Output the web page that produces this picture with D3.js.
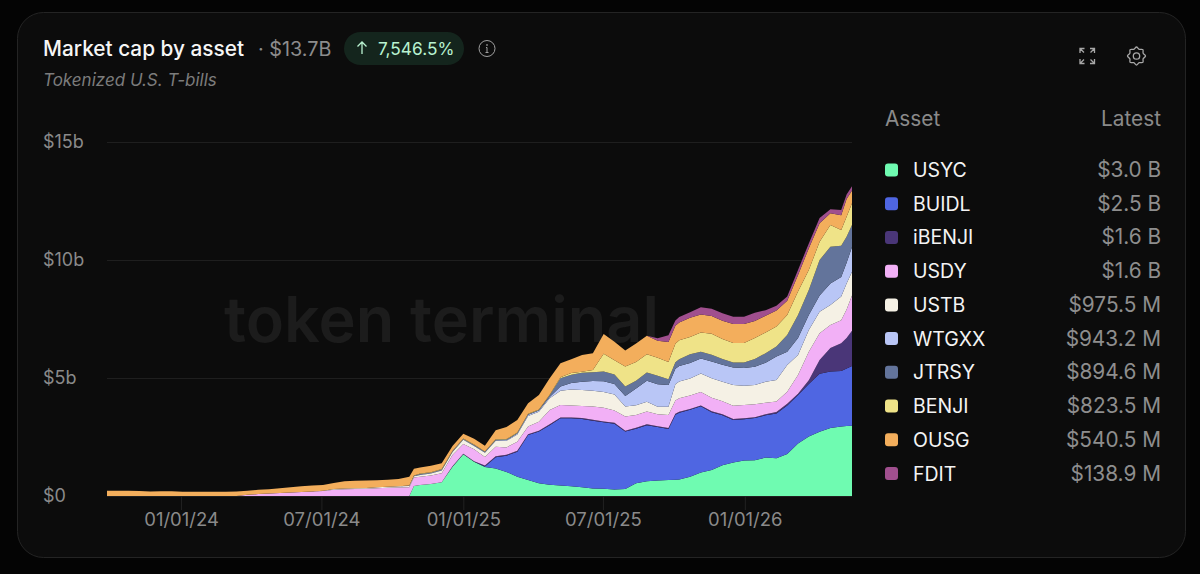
<!DOCTYPE html>
<html>
  <head>
    <title>Market cap by asset</title>
    <script src="https://cdnjs.cloudflare.com/ajax/libs/d3/7.8.5/d3.min.js"></script>
    <style>
      body {
        margin: 0;
        background: #040404;
        font-family: Inter, "Noto Sans", sans-serif;
        overflow: hidden;
      }
      svg text {
        font-family: Inter, "Noto Sans", sans-serif;
      }
      .domain {
        display: none;
      }
      .grid line {
        stroke: #1f1f1f;
      }
      .axis text {
        fill: #8a8a8a;
        font-size: 18px;
      }
      .xaxis text {
        font-size: 18.5px;
      }
      .xaxis line {
        stroke: #222;
      }
    </style>
  </head>
  <body>
    <svg id="chart" width="1200" height="574"></svg>
    <script>
      // two-weekly samples plus three extra ones at the sharp steps, values in $b
      const USYC = [
        0, 0, 0, 0, 0, 0, 0, 0, 0, 0,
        0, 0, 0, 0, 0, 0, 0, 0, 0, 0,
        0, 0, 0, 0, 0, 0, 0, 0, 0, 0.42, 0.47,
        0.51, 0.58, 1.24, 1.77, 1.45, 1.23, 1.16, 1.02, 0.82, 0.68,
        0.54, 0.48, 0.44, 0.41, 0.37, 0.32, 0.31, 0.28, 0.3, 0.54,
        0.62, 0.66, 0.68, 0.69, 0.7, 0.82, 1.0, 1.1, 1.3, 1.42, 1.5,
        1.51, 1.63, 1.6, 1.78, 2.22, 2.52, 2.72, 2.88, 2.95, 2.97, 2.98,
      ];
      const BUIDL = [
        0, 0, 0, 0, 0, 0, 0, 0, 0, 0,
        0, 0, 0, 0, 0, 0, 0, 0, 0, 0,
        0, 0, 0, 0, 0, 0, 0, 0, 0, 0, 0,
        0, 0, 0, 0, 0, 0.02, 0.48, 0.69, 1.06, 1.9,
        2.19, 2.52, 2.85, 2.88, 2.89, 2.87, 2.81, 2.78, 2.43, 2.31,
        2.38, 2.26, 2.16, 2.75, 2.83, 2.83, 2.8, 2.45, 2.12, 1.8, 1.75,
        1.79, 1.79, 1.9, 2.05, 2.06, 2.23, 2.46, 2.4, 2.35, 2.43, 2.53,
      ];
      const iBENJI = [
        0, 0, 0, 0, 0, 0, 0, 0, 0, 0,
        0, 0, 0, 0, 0, 0, 0, 0, 0, 0,
        0, 0, 0, 0, 0, 0, 0, 0, 0, 0, 0,
        0, 0, 0.02, 0.02, 0.02, 0.04, 0.04, 0.04, 0.04, 0.04,
        0.04, 0.04, 0.04, 0.04, 0.04, 0.04, 0.04, 0.04, 0.04, 0.04,
        0.04, 0.04, 0.04, 0.04, 0.04, 0.04, 0.04, 0.04, 0.04, 0.04, 0.04,
        0.04, 0.04, 0.06, 0.08, 0.05, 0.15, 0.58, 0.99, 1.17, 1.3, 1.49,
      ];
      const USDY = [
        0, 0, 0, 0, 0, 0, 0, 0, 0, 0,
        0, 0, 0, 0.05, 0.08, 0.11, 0.13, 0.15, 0.17, 0.19,
        0.21, 0.27, 0.29, 0.3, 0.31, 0.33, 0.35, 0.36, 0.37, 0.36, 0.35,
        0.36, 0.38, 0.48, 0.41, 0.51, 0.36, 0.41, 0.31, 0.38, 0.32,
        0.38, 0.6, 0.53, 0.5, 0.51, 0.56, 0.58, 0.52, 0.6, 0.54,
        0.54, 0.5, 0.55, 0.57, 0.57, 0.57, 0.57, 0.57, 0.55, 0.56, 0.57,
        0.55, 0.49, 0.44, 0.51, 0.8, 1.21, 1.14, 0.98, 0.98, 1.2, 1.5,
      ];
      const USTB = [
        0, 0, 0, 0, 0, 0, 0, 0, 0, 0,
        0, 0, 0, 0, 0, 0, 0, 0, 0, 0,
        0.01, 0.03, 0.03, 0.03, 0.03, 0.04, 0.04, 0.05, 0.05, 0.06, 0.07,
        0.08, 0.12, 0.12, 0.18, 0.14, 0.18, 0.25, 0.28, 0.31, 0.45,
        0.42, 0.5, 0.6, 0.68, 0.68, 0.67, 0.67, 0.68, 0.42, 0.42,
        0.41, 0.32, 0.35, 0.68, 0.71, 0.72, 0.78, 0.83, 0.83, 0.88, 0.81,
        0.81, 0.89, 0.92, 1.13, 0.84, 0.92, 0.91, 0.84, 1.0, 1.1, 1.0,
      ];
      const WTGXX = [
        0, 0, 0, 0, 0, 0, 0, 0, 0, 0,
        0, 0, 0, 0, 0, 0, 0, 0, 0, 0,
        0, 0, 0, 0, 0, 0, 0, 0, 0.01, 0.01, 0.02,
        0.02, 0.02, 0.02, 0.02, 0.02, 0.02, 0.02, 0.03, 0.04, 0.05,
        0.05, 0.05, 0.18, 0.28, 0.35, 0.41, 0.45, 0.45, 0.45, 0.7,
        0.89, 0.95, 0.92, 0.66, 0.66, 0.66, 0.64, 0.71, 0.72, 0.75, 0.75,
        0.78, 0.81, 0.99, 0.56, 0.72, 0.64, 0.69, 0.91, 0.83, 0.88, 1.05,
      ];
      const JTRSY = [
        0, 0, 0, 0, 0, 0, 0, 0, 0, 0,
        0, 0, 0, 0, 0, 0, 0, 0, 0, 0,
        0, 0, 0, 0, 0, 0, 0, 0, 0.01, 0.01, 0.02,
        0.02, 0.02, 0.02, 0.02, 0.02, 0.02, 0.02, 0.02, 0.02, 0.02,
        0.02, 0.08, 0.35, 0.35, 0.38, 0.37, 0.42, 0.4, 0.4, 0.33,
        0.35, 0.37, 0.25, 0.28, 0.28, 0.37, 0.28, 0.28, 0.24, 0.21, 0.24,
        0.32, 0.4, 0.42, 0.71, 0.98, 1.06, 1.5, 1.56, 1.32, 1.1, 0.93,
      ];
      const BENJI = [
        0, 0, 0, 0, 0, 0, 0, 0, 0, 0,
        0, 0, 0, 0, 0, 0, 0, 0, 0, 0,
        0, 0, 0, 0, 0, 0, 0, 0, 0.01, 0.01, 0.02,
        0.02, 0.02, 0.02, 0.02, 0.02, 0.02, 0.02, 0.02, 0.02, 0.02,
        0.02, 0.02, 0.04, 0.07, 0.04, 0.1, 0.75, 0.6, 0.85, 0.8,
        0.78, 0.76, 0.73, 0.78, 0.81, 0.73, 0.82, 0.89, 0.85, 0.82, 0.82,
        0.89, 0.88, 0.85, 0.85, 0.99, 0.85, 0.77, 0.92, 0.67, 0.85, 0.92,
      ];
      const OUSG = [
        0.22, 0.22, 0.22, 0.21, 0.19, 0.2, 0.2, 0.18, 0.18, 0.18,
        0.18, 0.18, 0.19, 0.17, 0.18, 0.18, 0.2, 0.22, 0.24, 0.25,
        0.25, 0.25, 0.31, 0.32, 0.32, 0.3, 0.3, 0.31, 0.37, 0.28, 0.26,
        0.27, 0.25, 0.2, 0.2, 0.25, 0.24, 0.39, 0.51, 0.53, 0.45,
        0.62, 0.7, 0.59, 0.58, 0.71, 0.71, 0.83, 0.79, 0.68, 0.78,
        0.78, 0.72, 0.85, 0.76, 0.75, 0.81, 0.76, 0.76, 0.78, 0.81, 0.81,
        0.73, 0.71, 0.68, 0.6, 0.7, 0.92, 0.79, 0.5, 0.63, 0.75, 0.55,
      ];
      const FDIT = [
        0, 0, 0, 0, 0, 0, 0, 0, 0, 0,
        0, 0, 0, 0, 0, 0, 0, 0, 0, 0,
        0, 0, 0, 0, 0, 0, 0, 0, 0, 0, 0,
        0, 0, 0, 0, 0, 0, 0, 0, 0, 0,
        0, 0, 0, 0, 0, 0, 0, 0, 0, 0,
        0, 0.1, 0.28, 0.23, 0.24, 0.24, 0.31, 0.3, 0.31, 0.31, 0.31,
        0.35, 0.23, 0.2, 0.18, 0.22, 0.2, 0.22, 0.17, 0.22, 0.2, 0.17,
      ];

      const assets = ["USYC", "BUIDL", "iBENJI", "USDY", "USTB", "WTGXX", "JTRSY", "BENJI", "OUSG", "FDIT"];
      const seriesValues = [USYC, BUIDL, iBENJI, USDY, USTB, WTGXX, JTRSY, BENJI, OUSG, FDIT];
      const latest = ["$3.0 B", "$2.5 B", "$1.6 B", "$1.6 B", "$975.5 M", "$943.2 M", "$894.6 M", "$823.5 M", "$540.5 M", "$138.9 M"];
      const colors = ["#6ffbb1", "#4f66e2", "#4a3678", "#f2b0f6", "#f5f1e5", "#b9c6f6", "#63749b", "#efe388", "#f3ae5c", "#a04f8e"];
      const yTicks = [0, 5, 10, 15];
      const xTicks = [new Date(Date.UTC(2024, 0, 1)), new Date(Date.UTC(2024, 6, 1)), new Date(Date.UTC(2025, 0, 1)), new Date(Date.UTC(2025, 6, 1)), new Date(Date.UTC(2026, 0, 1))];
      const extraDates = [new Date(Date.UTC(2024, 9, 29)), new Date(Date.UTC(2025, 9, 3)), new Date(Date.UTC(2026, 4, 13))];
      const dates = d3.utcDay
        .range(new Date(Date.UTC(2023, 8, 27)), new Date(Date.UTC(2026, 4, 21)), 14)
        .concat(extraDates)
        .sort(d3.ascending);

      const svg = d3.select("#chart");

      // card
      svg
        .append("rect")
        .attr("x", 17.5)
        .attr("y", 12.5)
        .attr("width", 1168)
        .attr("height", 545)
        .attr("rx", 26)
        .attr("fill", "#0c0c0c")
        .attr("stroke", "#242424");

      // header
      svg
        .append("text")
        .attr("x", 43)
        .attr("y", 56)
        .attr("fill", "#f6f6f6")
        .attr("font-size", 20.8)
        .attr("font-weight", 500)
        .text("Market cap by asset");
      svg
        .append("text")
        .attr("x", 258)
        .attr("y", 56)
        .attr("fill", "#8c8c8c")
        .attr("font-size", 19.8)
        .text("· $13.7B");
      svg
        .append("rect")
        .attr("x", 344)
        .attr("y", 32)
        .attr("width", 120)
        .attr("height", 33)
        .attr("rx", 16.5)
        .attr("fill", "#14251d");
      svg
        .append("path")
        .attr("d", "M362 54V42M357.5 46.5L362 42L366.5 46.5")
        .attr("fill", "none")
        .attr("stroke", "#b8f2d0")
        .attr("stroke-width", 1.3);
      svg
        .append("text")
        .attr("x", 378)
        .attr("y", 54.5)
        .attr("fill", "#b8f2d0")
        .attr("font-size", 17.3)
        .text("7,546.5%");
      const info = svg.append("g").attr("transform", "translate(487,48.5)").attr("stroke", "#a0a0a0").attr("fill", "none");
      info.append("circle").attr("r", 8);
      info.append("path").attr("d", "M0 -1V4M-1.5 4H1.5M-1 -1H0");
      info.append("circle").attr("cy", -3.5).attr("r", 0.5);
      svg
        .append("text")
        .attr("x", 43)
        .attr("y", 86)
        .attr("fill", "#7c7c7c")
        .attr("font-size", 17)
        .attr("font-style", "italic")
        .text("Tokenized U.S. T-bills");

      // top right icons
      svg
        .append("path")
        .attr("transform", "translate(1087,56)")
        .attr("d", "M-7 -3V-7.5H-2.5M-7 -7.5L-3 -3.5M3 -7.5H7.5V-3M7.5 -7.5L3.5 -3.5M-7 3V7.5H-2.5M-7 7.5L-3 3.5M3 7.5H7.5V3M7.5 7.5L3.5 3.5")
        .attr("fill", "none")
        .attr("stroke", "#a8a8a8")
        .attr("stroke-width", 1.3);
      const gear = svg.append("g").attr("transform", "translate(1136.5,56)").attr("fill", "none").attr("stroke", "#a8a8a8").attr("stroke-width", 1.3);
      gear.append("circle").attr("r", 3.2);
      gear
        .append("path")
        .attr(
          "d",
          d3.lineRadial().curve(d3.curveCardinalClosed)(
            d3.range(16).map((i) => [(i * Math.PI) / 8, i % 2 ? 7.2 : 9])
          )
        );

      // watermark
      svg
        .append("text")
        .attr("x", 224)
        .attr("y", 342)
        .attr("fill", "#1c1c1c")
        .attr("font-size", 63)
        .attr("font-weight", 600)
        .text("token terminal");

      const x = d3.scaleUtc().domain([dates[0], dates[dates.length - 1]]).range([107, 852]);
      const y = d3.scaleLinear().domain([0, 15]).range([496, 142]);

      // axes
      svg
        .append("g")
        .attr("class", "axis grid")
        .attr("transform", "translate(107,0)")
        .call(
          d3.axisLeft(y)
            .tickValues(yTicks)
            .tickSize(-745)
            .tickFormat((d) => (d === 0 ? "$0" : "$" + d + "b"))
        )
        .call((g) => g.selectAll("text").attr("x", -64).attr("text-anchor", "start"));

      svg
        .append("g")
        .attr("class", "axis xaxis")
        .attr("transform", "translate(0,496)")
        .call(
          d3.axisBottom(x)
            .tickValues(xTicks)
            .tickSize(14)
            .tickPadding(3)
            .tickFormat(d3.utcFormat("%m/%d/%y"))
        );

      // stacked areas
      const rows = dates.map((d, i) => {
        const row = { date: d };
        assets.forEach((a, k) => (row[a] = seriesValues[k][i]));
        return row;
      });
      const stacked = d3.stack().keys(assets)(rows);
      const area = d3
        .area()
        .x((d) => x(d.data.date))
        .y0((d) => y(d[0]))
        .y1((d) => y(d[1]));

      svg
        .append("g")
        .selectAll("path")
        .data(stacked)
        .enter()
        .append("path")
        .attr("fill", (d, i) => colors[i])
        .attr("d", area);

      // legend table
      svg.append("text").attr("x", 885).attr("y", 126).attr("fill", "#8a8a8a").attr("font-size", 20.8).text("Asset");
      svg.append("text").attr("x", 1161).attr("y", 126).attr("text-anchor", "end").attr("fill", "#8a8a8a").attr("font-size", 20.8).text("Latest");

      const legendY = d3.scalePoint().domain(assets).range([170, 473.5]);
      const legend = svg
        .append("g")
        .selectAll("g")
        .data(assets)
        .enter()
        .append("g")
        .attr("transform", (d) => `translate(0,${legendY(d)})`);
      legend
        .append("rect")
        .attr("x", 885)
        .attr("y", -6.5)
        .attr("width", 13)
        .attr("height", 13)
        .attr("rx", 3)
        .attr("fill", (d, i) => colors[i]);
      legend
        .append("text")
        .attr("x", 913)
        .attr("y", 7)
        .attr("fill", "#f4f4f4")
        .attr("font-size", 19.5)
        .text((d) => d);
      legend
        .append("text")
        .attr("x", 1161)
        .attr("y", 7)
        .attr("text-anchor", "end")
        .attr("fill", "#8e8e8e")
        .attr("font-size", 20.8)
        .text((d, i) => latest[i]);
    </script>
  </body>
</html>
